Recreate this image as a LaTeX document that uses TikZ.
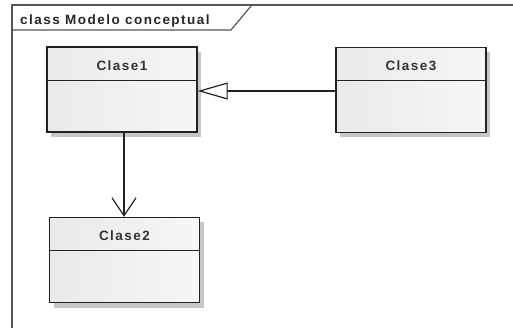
\documentclass[tikz,border=0pt]{standalone}
\usepackage{fontspec}
\setmainfont{Liberation Sans}
\newfontfamily\umlfont[LetterSpace=11]{Liberation Sans}
\usetikzlibrary{arrows.meta,shadows,calc}
\definecolor{framegray}{HTML}{555555}
\definecolor{linegray}{HTML}{222222}
\begin{document}
\begin{tikzpicture}[x=1pt,y=-1pt,
  classbox/.style={draw=linegray, line width=1.4pt, rectangle, inner sep=0pt,
    minimum width=150pt, minimum height=85pt,
    left color=gray!17, right color=gray!7,
    drop shadow={shadow xshift=4pt, shadow yshift=-5pt, fill=gray!55, opacity=0.8}},
  cname/.style={font=\umlfont\bfseries\fontsize{13.5}{14}\selectfont, text=black!80, inner sep=0pt},
  divider/.style={draw=linegray, line width=1.1pt},
  conn/.style={draw=linegray, line width=1.2pt}]
  \useasboundingbox (0,0) rectangle (513,328);
  \fill[white] (0,0) rectangle (513,328);

  % diagram frame with its name tab
  \draw[framegray, line width=1.5pt] (12,340) -- (12,5) -- (530,5);
  \draw[framegray, line width=1.2pt] (12,30) -- (231,30) -- (251,6);
  \node[font=\umlfont\bfseries\fontsize{13.5}{14}\selectfont, text=black!85, anchor=base west, inner sep=0pt]
    (title) at (20,25) {class Modelo conceptual};

  % classes
  \node[classbox] (c1) at (122,89.5) {};
  \node[classbox] (c3) at (411,90) {};
  \node[classbox] (c2) at (124.5,260) {};

  \foreach \c/\t in {c1/Clase1, c2/Clase2, c3/Clase3}{
    \draw[divider] ($(\c.north west)+(0,34)$) -- ($(\c.north east)+(0,34)$);
    \node[cname] (\c t) at ($(\c.north)+(0,19)$) {\t};
  }

  % generalization Clase3 -> Clase1
  \draw[conn, -{Triangle[open, length=30pt, width=17pt, fill=white]}]
    (c3.west |- 0,91) -- (c1.east |- 0,91);
  % association Clase1 -> Clase2
  \draw[conn, -{Straight Barb[length=18pt, width=24pt, line width=1.2pt]}]
    (c1.south -| 124,0) -- (c2.north -| 124,0);
\end{tikzpicture}
\end{document}
